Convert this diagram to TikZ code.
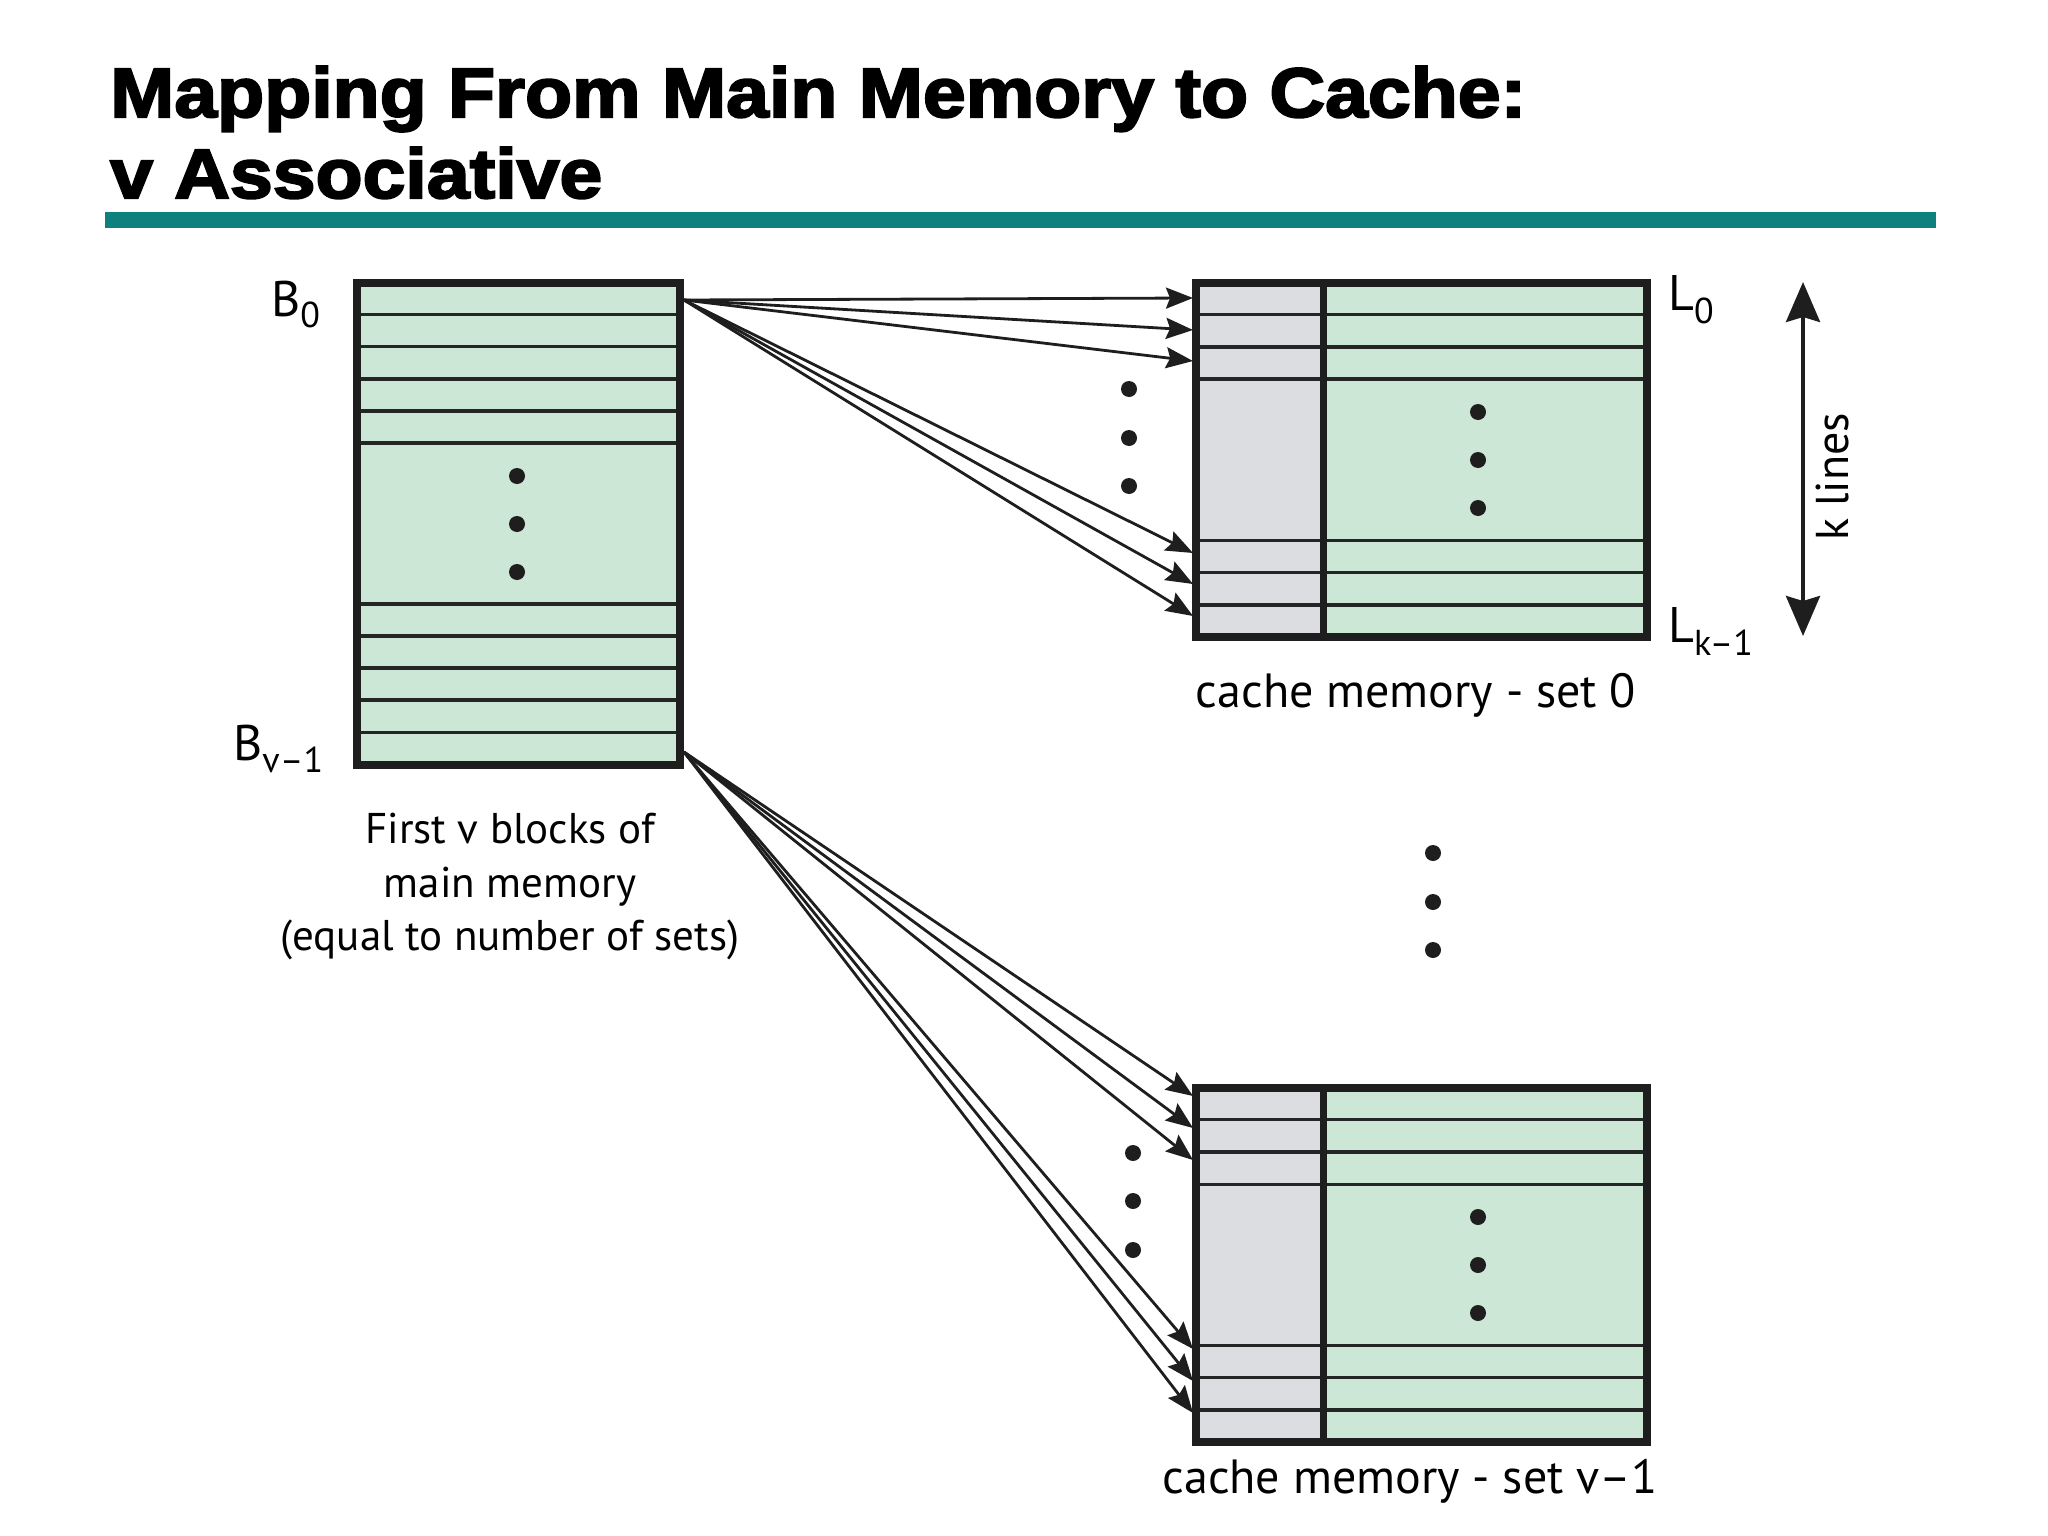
\documentclass[tikz,border=0pt]{standalone}
\usepackage{fontspec}
\usetikzlibrary{arrows.meta}
\newfontfamily\titlefont{Liberation Sans}[FakeStretch=1.1,FakeBold=3]
\newfontfamily\dfont{PT Sans}
\definecolor{memgreen}{RGB}{204,231,214}
\definecolor{taggrey}{RGB}{220,221,224}
\definecolor{bordercol}{RGB}{30,30,30}
\definecolor{linecol}{RGB}{35,38,36}
\definecolor{tealbar}{RGB}{14,128,125}
\begin{document}
\begin{tikzpicture}[x=1pt,y=-1pt,
  rowline/.style={line width=3.4pt, draw=linecol},
  boxborder/.style={line width=8pt, draw=bordercol},
  divider/.style={line width=7pt, draw=bordercol},
  conn/.style={line width=2.8pt, draw=bordercol, -{Stealth[length=27pt,width=21pt,inset=4pt]}},
  kline/.style={line width=4pt, draw=bordercol, {Stealth[length=40pt,width=34pt,inset=5pt]}-{Stealth[length=40pt,width=34pt,inset=5pt]}},
  dotmark/.style={fill=bordercol},
  titletext/.style={anchor=base west, inner sep=0pt, font=\titlefont\bfseries\fontsize{70}{80}\selectfont},
  lbl/.style={anchor=base west, inner sep=0pt, font=\dfont\fontsize{50}{50}\selectfont},
  capt/.style={anchor=base, inner sep=0pt, font=\dfont\fontsize{43}{54}\selectfont},
  setcapt/.style={anchor=base, inner sep=0pt, font=\dfont\fontsize{48}{54}\selectfont},
]
\fill[white] (0,0) rectangle (2048,1536);
\useasboundingbox (0,0) rectangle (2048,1536);

% title
\node[titletext] (title1) at (110,117) {Mapping From Main Memory to Cache:};
\node[titletext] (title2) at (110,198) {v Associative};
\fill[tealbar] (105,212) rectangle (1936,228);

% main memory
\fill[memgreen] (356.5,282.5) rectangle (680,764.5);
\foreach \k in {1,2,3,4,5,10,11,12,13,14}
  \draw[rowline] (356.5,{282.5+32.13*\k}) -- (680,{282.5+32.13*\k});
\draw[boxborder] (356.5,282.5) rectangle (680,764.5);
\foreach \yy in {476,524,572} \fill[dotmark] (517,\yy) circle[radius=8pt];

\node[lbl] (b0) at (271,316) {B\raisebox{-11pt}{\fontsize{36}{36}\selectfont 0}};
\node[lbl] (bv) at (233,760) {B\raisebox{-12pt}{\fontsize{36}{36}\selectfont v–1}};

\node[capt] (cap1) at (510,843) {First v blocks of};
\node[capt] (cap2) at (510,897) {main memory};
\node[capt] (cap3) at (510,950) {(equal to number of sets)};

% cache sets
\foreach \off in {0,805} {
\begin{scope}[shift={(0,\off)}]
  \fill[taggrey] (1196,282.5) rectangle (1323,637);
  \fill[memgreen] (1323,282.5) rectangle (1647,637);
  \foreach \k in {1,2,3,8,9,10}
    \draw[rowline] (1196,{282.5+32.23*\k}) -- (1647,{282.5+32.23*\k});
  \draw[divider] (1323,282.5) -- (1323,637);
  \draw[boxborder] (1196,282.5) rectangle (1647,637);
  \foreach \yy in {412,460,508} \fill[dotmark] (1478,\yy) circle[radius=8pt];
\end{scope}
}

\node[setcapt] (set0) at (1416,707) {cache memory - set 0};
\node[setcapt] (setv) at (1410,1493) {cache memory - set v–1};

\node[lbl] (l0) at (1668,310) {L\raisebox{-13pt}{\fontsize{36}{36}\selectfont 0}};
\node[lbl] (lk) at (1668,642) {L\raisebox{-13pt}{\fontsize{36}{36}\selectfont k–1}};

% k lines
\coordinate (ktop) at (1803,282);
\coordinate (kbot) at (1803,636);
\draw[kline] (ktop) -- (kbot);
\node[anchor=base, inner sep=0pt, rotate=90, font=\dfont\fontsize{46}{46}\selectfont] (klab) at (1848,477) {k lines};

% dots
\foreach \yy in {389,438,486} \fill[dotmark] (1129,\yy) circle[radius=8pt];
\foreach \yy in {1153,1201,1250} \fill[dotmark] (1133,\yy) circle[radius=8pt];
\foreach \yy in {853,902,950} \fill[dotmark] (1433,\yy) circle[radius=8pt];

% arrows
\coordinate (b0out) at (684,300);
\coordinate (bvout) at (684,752);
\coordinate (s0a) at (1193,298);
\coordinate (s0b) at (1193,330);
\coordinate (s0c) at (1193,361);
\coordinate (s0d) at (1193,553);
\coordinate (s0e) at (1193,584);
\coordinate (s0f) at (1193,616);
\coordinate (s1a) at (1193,1096);
\coordinate (s1b) at (1193,1128);
\coordinate (s1c) at (1193,1160);
\coordinate (s1d) at (1193,1349);
\coordinate (s1e) at (1193,1381);
\coordinate (s1f) at (1193,1413);
\foreach \t in {s0a,s0b,s0c,s0d,s0e,s0f} \draw[conn] (b0out) -- (\t);
\foreach \t in {s1a,s1b,s1c,s1d,s1e,s1f} \draw[conn] (bvout) -- (\t);
\end{tikzpicture}
\end{document}
